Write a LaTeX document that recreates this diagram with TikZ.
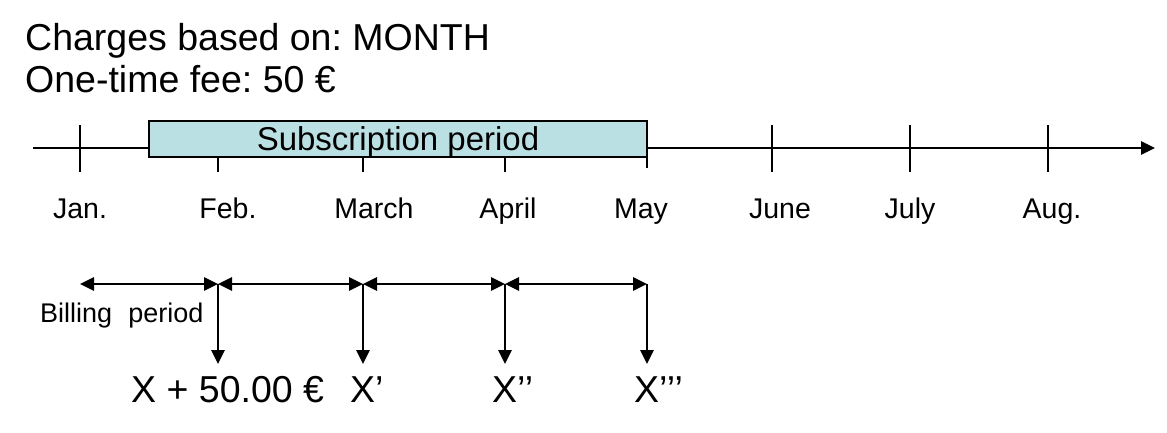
\documentclass[tikz,border=0pt]{standalone}
\usepackage{fontspec}
\setmainfont{Liberation Sans}
\usetikzlibrary{arrows.meta}
\definecolor{subfill}{HTML}{BBE0E3}
\frenchspacing
\tikzset{
  ln/.style={line width=2.6pt, black},
  tip/.style={-{Triangle[length=14pt,width=13pt]}},
  dtip/.style={{Triangle[length=14pt,width=13pt]}-{Triangle[length=14pt,width=13pt]}},
  month/.style={anchor=base, font=\fontsize{28.5}{32}\selectfont, inner sep=0pt},
  title/.style={anchor=base west, font=\fontsize{37.5}{42}\selectfont, inner sep=0pt},
  xlab/.style={anchor=base west, font=\fontsize{37.5}{44}\selectfont, inner sep=0pt},
}
\begin{document}
\begin{tikzpicture}[x=1pt,y=-1pt]
\useasboundingbox (0,0) rectangle (1167,433);
% titles
\node[title] (t1) at (25,51) {Charges based on: MONTH};
\node[title] (t2) at (25,93) {One-time fee: 50 €};
% axis
\coordinate (a0) at (33,148);
\coordinate (a1) at (1155,148);
\draw[ln,tip] (a0) -- (a1);
% subscription box
\node[draw, line width=2.6pt, fill=subfill, minimum width=498pt, minimum height=36pt, inner sep=0pt] (sub) at (398,139) {};
\node[anchor=base, inner sep=0pt, font=\fontsize{33}{38}\selectfont] (subt) at (398,150) {Subscription period};
% full ticks
\foreach \n/\x in {jan/80, jun/772, jul/910, aug/1048}{
  \coordinate (\n top) at (\x,125);
  \coordinate (\n bot) at (\x,172);
  \draw[ln] (\n top) -- (\n bot);
}
% half ticks below box
\foreach \n/\x in {feb/218, mar/363, apr/505}{
  \coordinate (\n top) at (\x,157);
  \coordinate (\n bot) at (\x,172);
  \draw[ln] (\n top) -- (\n bot);
}
\coordinate (maytop) at (647,157);
\coordinate (maybot) at (647,168);
\draw[ln] (maytop) -- (maybot);
% month labels
\node[month] (ljan) at (80,218) {Jan.};
\node[month] (lfeb) at (228,218) {Feb.};
\node[month] (lmar) at (374,218) {March};
\node[month] (lapr) at (508,218) {April};
\node[month] (lmay) at (641,218) {May};
\node[month] (ljun) at (780,218) {June};
\node[month] (ljul) at (910,218) {July};
\node[month] (laug) at (1052,218) {Aug.};
% billing periods
\coordinate (b0) at (80,284);
\coordinate (b1) at (218,284);
\coordinate (b2) at (363,284);
\coordinate (b3) at (505,284);
\coordinate (b4) at (647,284);
\draw[ln,dtip] (b0) -- (b1);
\draw[ln,dtip] (b1) -- (b2);
\draw[ln,dtip] (b2) -- (b3);
\draw[ln,dtip] (b3) -- (b4);
\coordinate (d1) at (218,364);
\coordinate (d2) at (363,364);
\coordinate (d3) at (505,364);
\coordinate (d4) at (647,364);
\draw[ln,tip] (b1) -- (d1);
\draw[ln,tip] (b2) -- (d2);
\draw[ln,tip] (b3) -- (d3);
\draw[ln,tip] (b4) -- (d4);
\node[anchor=base west, inner sep=0pt, font=\fontsize{27}{30}\selectfont] (bill) at (40,322) {Billing\hspace{0.6em}period};
\node[xlab] (x1) at (131,402) {X + 50.00 €};
\node[xlab] (x2) at (350,402) {X’};
\node[xlab] (x3) at (492,402) {X’’};
\node[xlab] (x4) at (634,402) {X’’’};
\end{tikzpicture}
\end{document}
